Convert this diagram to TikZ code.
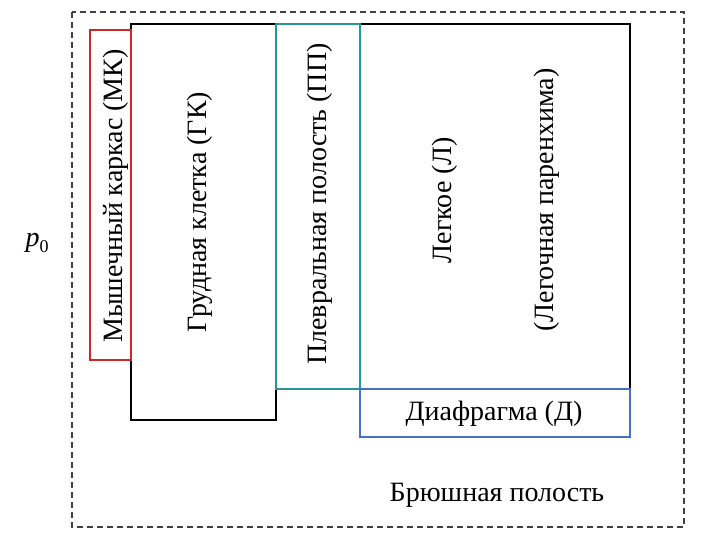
\documentclass[tikz,border=0pt]{standalone}
\usepackage{fontspec}
\setmainfont{Liberation Serif}
\definecolor{mkred}{RGB}{204,40,40}
\definecolor{ppteal}{RGB}{38,150,150}
\definecolor{dblue}{RGB}{68,114,196}
\definecolor{dgray}{RGB}{64,64,64}
\begin{document}
\begin{tikzpicture}[x=1pt,y=-1pt,
  box/.style={draw=black,line width=2pt},
  lbl/.style={font=\fontsize{28}{32}\selectfont,inner sep=0pt},
  vlbl/.style={lbl,rotate=90}]
\useasboundingbox (0,0) rectangle (720,540);
\draw[dgray,dashed,line width=1.5pt,dash pattern=on 6pt off 4pt] (72,12) rectangle (684,527);
\draw[box] (131,24) rectangle (276,420);
\draw[box] (360,24) rectangle (630,389);
\draw[ppteal,line width=2pt] (276,24) rectangle (360,389);
\draw[mkred,line width=2pt] (90,30) rectangle (131,360);
\draw[dblue,line width=2pt] (360,389) rectangle (630,437);
\node[vlbl] (mk) at (116,196) {Мышечный каркас (МК)};
\node[vlbl] (gk) at (200,212) {Грудная клетка (ГК)};
\node[vlbl] (pp) at (320,204) {Плевральная полость (ПП)};
\node[vlbl] (l) at (445,200) {Легкое (Л)};
\node[vlbl] (lp) at (547,200) {(Легочная паренхима)};
\node[lbl] (d) at (494,414) {Диафрагма (Д)};
\node[lbl] (bp) at (497,495) {Брюшная полость};
\node[lbl] (p0) at (37,243) {\textit{p}\raisebox{-0.2em}{\fontsize{18}{20}\selectfont 0}};
\end{tikzpicture}
\end{document}
